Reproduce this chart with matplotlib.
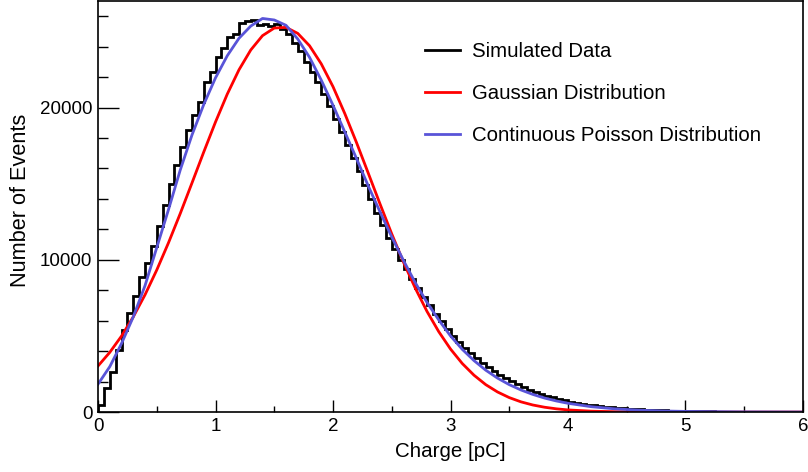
import numpy as np
import matplotlib
matplotlib.use("Agg")
import matplotlib.pyplot as plt
from matplotlib.ticker import MultipleLocator
from matplotlib.lines import Line2D

plt.rcParams['font.family'] = ['Liberation Sans', 'DejaVu Sans']

# ── Data ──────────────────────────────────────────────────────────────────────
bin_edges = np.linspace(0.0, 6.0, 121)   # 120 bins of 0.05 pC

sim_counts = [
    480, 1570, 2660, 4050, 5420, 6490, 7630, 8840, 9820, 10930,
    12220, 13600, 14970, 16210, 17400, 18500, 19480, 20350, 21650, 22310,
    23290, 23900, 24600, 24860, 25580, 25690, 25730, 25420, 25510, 25360,
    25470, 25140, 24800, 24270, 23730, 23000, 22350, 21700, 20900, 20100,
    19250, 18400, 17550, 16700, 15800, 14900, 14000, 13100, 12300, 11450,
    10700, 10000, 9400, 8750, 8150, 7550, 7000, 6450, 5950, 5450,
    5000, 4600, 4220, 3860, 3530, 3220, 2940, 2680, 2440, 2220,
    2010, 1820, 1640, 1480, 1330, 1190, 1070, 960, 860, 770,
    690, 620, 555, 495, 440, 395, 350, 312, 278, 248,
    220, 195, 173, 153, 136, 120, 106, 94, 83, 73,
    64, 56, 50, 44, 38, 34, 30, 26, 23, 20,
    18, 15, 13, 12, 10, 9, 8, 7, 6, 5,
]

fit_x = [
    0.0, 0.1, 0.2, 0.3, 0.4, 0.5, 0.6, 0.7, 0.8, 0.9,
    1.0, 1.1, 1.2, 1.3, 1.4, 1.5, 1.6, 1.7, 1.8, 1.9,
    2.0, 2.1, 2.2, 2.3, 2.4, 2.5, 2.6, 2.7, 2.8, 2.9,
    3.0, 3.1, 3.2, 3.3, 3.4, 3.5, 3.6, 3.7, 3.8, 3.9,
    4.0, 4.2, 4.4, 4.6, 4.8, 5.0, 5.5, 6.0,
]

gauss_y = [
    3025, 3920, 4990, 6250, 7700, 9330, 11120, 13040, 15050, 17080,
    19050, 20880, 22480, 23780, 24720, 25220, 25265, 24870, 24060, 22870,
    21370, 19610, 17700, 15690, 13670, 11700, 9840, 8140, 6610, 5280,
    4140, 3190, 2420, 1800, 1320, 950, 670, 465, 318, 213,
    140, 58, 22, 8, 3, 1, 0, 0,
]

poisson_y = [
    1830, 2980, 4500, 6250, 8300, 10800, 13300, 15900, 18200, 20200,
    21950, 23400, 24550, 25350, 25850, 25750, 25400, 24500, 23300, 21800,
    20150, 18400, 16650, 14850, 13150, 11500, 9950, 8500, 7200, 6050,
    5000, 4120, 3380, 2750, 2230, 1800, 1450, 1160, 920, 730,
    575, 350, 210, 125, 72, 42, 10, 2,
]

labels = ["Simulated Data", "Gaussian Distribution", "Continuous Poisson Distribution"]
colors = ["black", "#ff0000", "#5954d8"]

# ── Figure ────────────────────────────────────────────────────────────────────
fig = plt.figure(figsize=(8.08, 4.72), dpi=100)
ax = fig.add_axes([0.1213, 0.127, 0.8725, 0.871])

ax.stairs(sim_counts, bin_edges, color=colors[0], lw=2, baseline=0)
ax.plot(fit_x, gauss_y, color=colors[1], lw=2)
ax.plot(fit_x, poisson_y, color=colors[2], lw=2)

ax.set_xlim(0, 6)
ax.set_ylim(0, 27000)

ax.xaxis.set_major_locator(MultipleLocator(1))
ax.xaxis.set_minor_locator(MultipleLocator(0.5))
ax.yaxis.set_major_locator(MultipleLocator(10000))
ax.yaxis.set_minor_locator(MultipleLocator(2000))

ax.tick_params(axis='both', which='both', direction='in', top=False, right=False,
               labelsize=13.5, width=1)
ax.tick_params(axis='x', which='major', length=9, pad=4)
ax.tick_params(axis='x', which='minor', length=4.3)
ax.tick_params(axis='y', which='major', length=15, pad=4)
ax.tick_params(axis='y', which='minor', length=7.2)

for sp in ax.spines.values():
    sp.set_linewidth(1.2)

ax.set_xlabel("Charge [pC]", fontsize=14.8)
ax.set_ylabel("Number of Events", fontsize=15.7)
ax.xaxis.label.set_va('center')
ax.yaxis.label.set_va('center')
ax.xaxis.set_label_coords(0.5, -0.097)
ax.yaxis.set_label_coords(-0.11, 0.515)

handles = [Line2D([], [], color=c, lw=2) for c in colors]
ax.legend(handles, labels, loc='upper left', bbox_to_anchor=(0.464, 0.90),
          frameon=False, fontsize=14.7, borderpad=0, borderaxespad=0,
          handlelength=1.72, handletextpad=0.58, labelspacing=1.13)

fig.savefig("out.png", dpi=100)
